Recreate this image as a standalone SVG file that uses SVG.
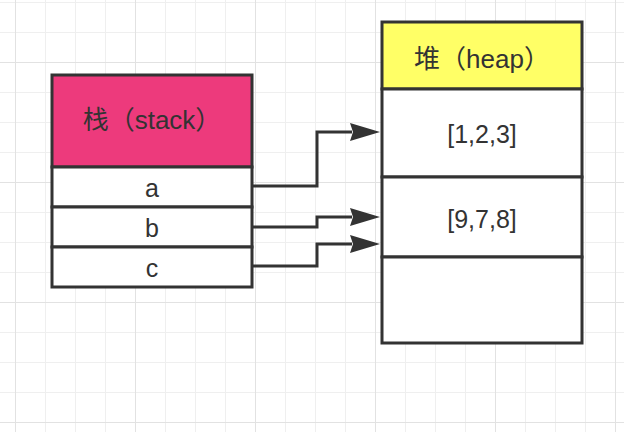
<svg xmlns="http://www.w3.org/2000/svg" width="624" height="432" viewBox="0 0 624 432">
<style>
.minor{stroke:#efefef;stroke-width:1;fill:none}
.major{stroke:#e2e2e2;stroke-width:1;fill:none}
.box{stroke:#333;stroke-width:3;fill:#fff}
.pink{fill:#ed3a7c}
.yellow{fill:#ffff66}
.t{font-family:"Liberation Sans","Noto Sans CJK SC",sans-serif;font-size:25px;fill:#333;text-anchor:middle}
.h{font-size:26px}
.conn{stroke:#333;stroke-width:3;fill:none;marker-end:url(#arr)}
</style>
<defs>
<marker id="arr" viewBox="0 0 30 18" markerWidth="30" markerHeight="18" refX="2" refY="9" orient="auto" markerUnits="userSpaceOnUse">
<path d="M0,0 L30,9 L0,18 L3,9 Z" fill="#333"/>
</marker>
</defs>
<rect width="624" height="432" fill="#fff"/>
<g id="grid">
<path class="minor" d="M45.5,0V432M75.5,0V432M105.5,0V432M165.5,0V432M195.5,0V432M225.5,0V432M285.5,0V432M315.5,0V432M345.5,0V432M405.5,0V432M435.5,0V432M465.5,0V432M525.5,0V432M555.5,0V432M585.5,0V432M0,2.5H624M0,32.5H624M0,92.5H624M0,122.5H624M0,152.5H624M0,212.5H624M0,242.5H624M0,272.5H624M0,332.5H624M0,362.5H624M0,392.5H624"/>
<path class="major" d="M15.5,0V432M135.5,0V432M255.5,0V432M375.5,0V432M495.5,0V432M615.5,0V432M0,62.5H624M0,182.5H624M0,302.5H624M0,422.5H624"/>
</g>
<g id="stack">
<rect class="box pink" x="52" y="75" width="200" height="92"/>
<text class="t h" x="152" y="129">栈（stack）</text>
</g>
<g id="stack-a">
<rect class="box" x="52" y="167" width="200" height="40"/>
<text class="t" x="152" y="197">a</text>
</g>
<g id="stack-b">
<rect class="box" x="52" y="207" width="200" height="40"/>
<text class="t" x="152" y="237">b</text>
</g>
<g id="stack-c">
<rect class="box" x="52" y="247" width="200" height="40"/>
<text class="t" x="152" y="277">c</text>
</g>
<g id="heap">
<rect class="box yellow" x="382" y="22" width="200" height="67"/>
<text class="t h" x="482" y="68">堆（heap）</text>
</g>
<g id="heap-1">
<rect class="box" x="382" y="89" width="200" height="88"/>
<text class="t" x="482" y="143">[1,2,3]</text>
</g>
<g id="heap-2">
<rect class="box" x="382" y="177" width="200" height="80"/>
<text class="t" x="482" y="228">[9,7,8]</text>
</g>
<g id="heap-3">
<rect class="box" x="382" y="257" width="200" height="86"/>
</g>
<g id="connectors">
<path class="conn" d="M253,186H317V132H352"/>
<path class="conn" d="M253,227H317V217H352"/>
<path class="conn" d="M253,266H317V244H352"/>
</g>
</svg>
